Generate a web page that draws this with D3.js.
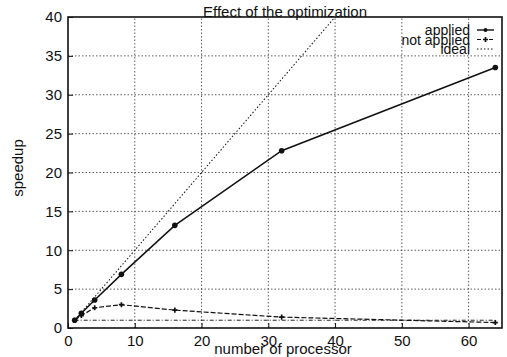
<!DOCTYPE html>
<html>
<head>
<meta charset="utf-8">
<script src="https://cdn.jsdelivr.net/npm/d3@7"></script>
<style>
  body { margin: 0; background: #fff; }
  text { font-family: 'Liberation Sans', Arial, sans-serif; fill: #111; }
</style>
</head>
<body>
<svg id="chart" width="507" height="357"></svg>
<script>
const procs = [1, 2, 4, 8, 16, 32, 64];
const applied = [1, 1.9, 3.6, 6.9, 13.2, 22.8, 33.5];
const notApplied = [1, 1.6, 2.6, 3.0, 2.3, 1.4, 0.7];
const ideal = [1, 2, 4, 8, 16, 32, 64];
const baseline = [1, 1, 1, 1, 1, 1, 1];
const xTicks = [0, 10, 20, 30, 40, 50, 60];
const yTicks = [0, 5, 10, 15, 20, 25, 30, 35, 40];
const legendNames = ['applied', 'not applied', 'ideal'];

const svg = d3.select('#chart');
const x = d3.scaleLinear().domain([0, 65]).range([68, 502]);
const y = d3.scaleLinear().domain([0, 40]).range([328, 17]);

svg.append('defs').append('clipPath').attr('id', 'clip')
  .append('rect').attr('x', 68).attr('y', 17).attr('width', 434).attr('height', 311);

// grid
const grid = svg.append('g').attr('stroke', '#333').attr('stroke-width', 0.8).attr('stroke-dasharray', '1.5,2');
grid.selectAll('.gx').data(xTicks.filter(d => d > 0)).join('line')
  .attr('x1', d => x(d)).attr('x2', d => x(d)).attr('y1', y(0)).attr('y2', y(40));
grid.selectAll('.gy').data(yTicks.filter(d => d > 0 && d < 40)).join('line')
  .attr('x1', x(0)).attr('x2', x(65)).attr('y1', d => y(d)).attr('y2', d => y(d));

// axes
const xAxis = svg.append('g').attr('transform', `translate(0,${y(0)})`)
  .call(d3.axisBottom(x).tickValues(xTicks).tickSize(-5).tickPadding(7));
const yAxis = svg.append('g').attr('transform', `translate(${x(0)},0)`)
  .call(d3.axisLeft(y).tickValues(yTicks).tickSize(-5).tickPadding(6));
[xAxis, yAxis].forEach(a => {
  a.select('.domain').remove();
  a.selectAll('line').attr('stroke', '#111');
  a.selectAll('text').style('font-size', '15px').attr('fill', '#111');
});

// frame
svg.append('rect').attr('x', x(0)).attr('y', y(40))
  .attr('width', x(65) - x(0)).attr('height', y(0) - y(40))
  .attr('fill', 'none').attr('stroke', '#111').attr('stroke-width', 1.6);

const line = d3.line().x(d => x(d[0])).y(d => y(d[1]));
const plot = svg.append('g').attr('clip-path', 'url(#clip)');

plot.append('path').datum(procs.map((p, i) => [p, baseline[i]]))
  .attr('d', line).attr('fill', 'none').attr('stroke', '#222')
  .attr('stroke-width', 1).attr('stroke-dasharray', '4,2,1,2');

plot.append('path').datum(procs.map((p, i) => [p, ideal[i]]))
  .attr('d', line).attr('fill', 'none').attr('stroke', '#222')
  .attr('stroke-width', 1.1).attr('stroke-dasharray', '1.5,2');

plot.append('path').datum(procs.map((p, i) => [p, notApplied[i]]))
  .attr('d', line).attr('fill', 'none').attr('stroke', '#111')
  .attr('stroke-width', 1.2).attr('stroke-dasharray', '5,2');

plot.append('path').datum(procs.map((p, i) => [p, applied[i]]))
  .attr('d', line).attr('fill', 'none').attr('stroke', '#111').attr('stroke-width', 1.5);

plot.selectAll('.pa').data(procs.map((p, i) => [p, applied[i]])).join('circle')
  .attr('cx', d => x(d[0])).attr('cy', d => y(d[1])).attr('r', 2.8).attr('fill', '#111');

const plus = d3.symbol().type(d3.symbolCross).size(14);
plot.selectAll('.pn').data(procs.map((p, i) => [p, notApplied[i]])).join('path')
  .attr('transform', d => `translate(${x(d[0])},${y(d[1])})`)
  .attr('d', plus).attr('fill', '#111');

// legend
const lg = svg.append('g');
legendNames.forEach((name, i) => {
  const ly = 35 + i * 9.5;
  lg.append('text').attr('x', 470).attr('y', ly).attr('text-anchor', 'end')
    .style('font-size', '14px').text(name);
  const l = lg.append('line').attr('x1', 477).attr('x2', 494)
    .attr('y1', ly - 5).attr('y2', ly - 5).attr('stroke', '#111');
  if (i === 0) {
    l.attr('stroke-width', 1.4);
    lg.append('circle').attr('cx', 485.5).attr('cy', ly - 5).attr('r', 2).attr('fill', '#111');
  } else if (i === 1) {
    l.attr('stroke-dasharray', '4,2');
    lg.append('path').attr('transform', `translate(485.5,${ly - 5})`).attr('d', plus).attr('fill', '#111');
  } else {
    l.attr('stroke-dasharray', '1.5,2');
  }
});

// titles
svg.append('text').attr('x', 285).attr('y', 17).attr('text-anchor', 'middle')
  .style('font-size', '15px').text('Effect of the optimization');
svg.append('text').attr('x', 283).attr('y', 354).attr('text-anchor', 'middle')
  .style('font-size', '15px').text('number of processor');
svg.append('text').attr('transform', 'translate(23,168) rotate(-90)')
  .attr('text-anchor', 'middle').style('font-size', '15px').text('speedup');
</script>
</body>
</html>
